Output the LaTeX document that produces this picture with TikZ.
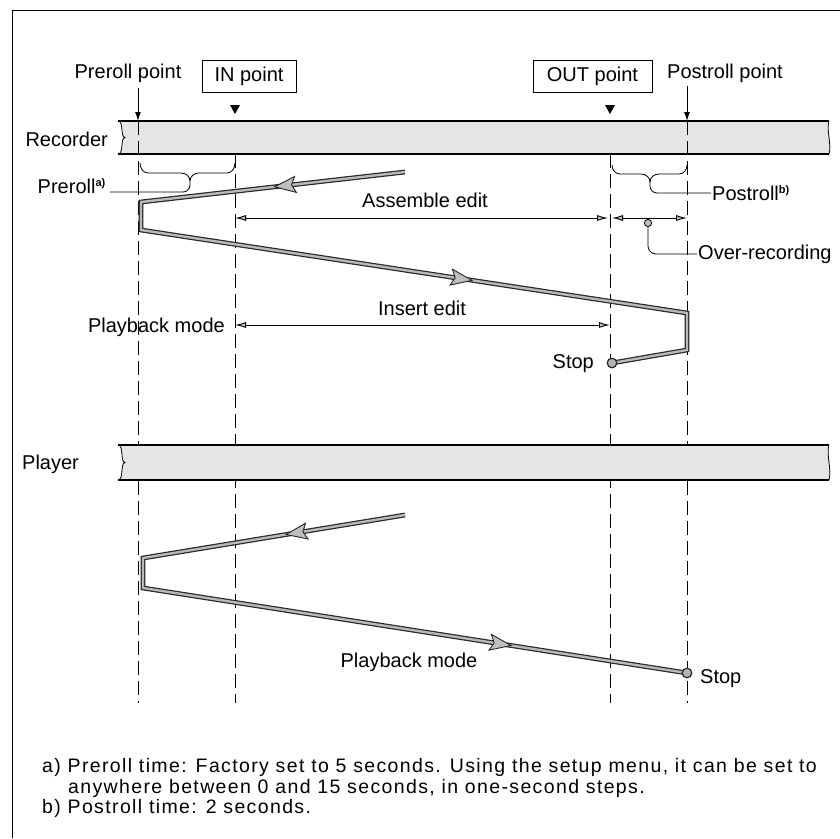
\documentclass[tikz,border=0pt]{standalone}
\usepackage{fontspec}
\setmainfont{Liberation Sans}
\newfontfamily\footfont[LetterSpace=7]{Liberation Sans}
\usetikzlibrary{arrows.meta,decorations.markings}
\begin{document}
\begin{tikzpicture}[x=1pt,y=-1pt,
  lbl/.style={inner sep=0pt,font=\fontsize{20}{24}\selectfont},
  foot/.style={inner sep=0pt,anchor=base west,font=\footfont\fontsize{19.5}{21}\selectfont},
  tape/.style={fill=gray!20,draw=none},
  tapeedge/.style={line width=2pt},
  guide/.style={line width=0.9pt,dash pattern=on 14pt off 6pt},
  pathout/.style={line width=4.8pt,draw=black!85,line join=miter},
  pathin/.style={line width=2.4pt,draw=gray!55,line join=miter},
  midarrow/.style={postaction={decorate},decoration={markings,mark=at position #1 with {\filldraw[fill=gray!50,draw=black!85,line width=0.9pt,line join=miter] (9,0) -- (-12,8) -- (-8,0) -- (-12,-8) -- cycle;}}},
  dimline/.style={line width=0.9pt,{Latex[length=11pt,width=6pt,fill=gray!50]}-{Latex[length=11pt,width=6pt,fill=gray!50]}},
  ptarrow/.style={line width=1pt,-{Latex[length=9pt,width=6pt]}},
  box/.style={draw,line width=1pt,inner sep=0pt,minimum height=32pt,font=\fontsize{20}{24}\selectfont},
  thinln/.style={line width=0.8pt}
]
\useasboundingbox (0,0) rectangle (840,838);
% frame
\draw[line width=1pt] (12,838) -- (12,10) -- (840,10);

% recorder tape
\fill[tape] (118,121) .. controls (124,121) and (120,137) .. (125,137.5) .. controls (120,138) and (124,154) .. (118,154) -- (829,154) .. controls (832,145) and (826,130) .. (829,121) -- cycle;
\draw[tapeedge] (118,121) -- (829,121);
\draw[tapeedge] (118,154) -- (829,154);
\draw[thinln] (118,121) .. controls (124,121) and (120,137) .. (125,137.5) .. controls (120,138) and (124,154) .. (118,154);
\draw[thinln] (829,121) .. controls (826,130) and (832,145) .. (829,154);

% guide lines
\coordinate (g1t) at (138,121); \coordinate (g1b) at (138,703);
\coordinate (g2t) at (235,154); \coordinate (g2b) at (235,703);
\coordinate (g3t) at (610,154); \coordinate (g3b) at (610,703);
\coordinate (g4t) at (687,121); \coordinate (g4b) at (687,703);
\draw[guide] (g1t) -- (g1b);
\draw[guide] (g2t) -- (g2b);
\draw[guide] (g3t) -- (g3b);
\draw[guide] (g4t) -- (g4b);

% player tape
\fill[tape] (118,445) .. controls (124,445) and (120,462) .. (125,462.5) .. controls (120,463) and (124,480) .. (118,480) -- (829,480) .. controls (832,470) and (826,455) .. (829,445) -- cycle;
\draw[tapeedge] (118,445) -- (829,445);
\draw[tapeedge] (118,480) -- (829,480);
\draw[thinln] (118,445) .. controls (124,445) and (120,462) .. (125,462.5) .. controls (120,463) and (124,480) .. (118,480);
\draw[thinln] (829,445) .. controls (826,455) and (832,470) .. (829,480);

% top labels
\node[lbl] (prep) at (128,73) {Preroll point};
\node[lbl] (postp) at (725,73) {Postroll point};
\node[box,minimum width=94pt] (inp) at (249,76) {IN point};
\node[box,minimum width=119pt] (outp) at (592.5,76) {OUT point};
\coordinate (prea) at (138,88);
\coordinate (posta) at (687,86);
\draw[ptarrow] (prea) -- (g1t);
\draw[ptarrow] (posta) -- (g4t);
\fill (230,105) -- (240,105) -- (235,114) -- cycle;
\fill (605,105) -- (615,105) -- (610,114) -- cycle;

\node[lbl,anchor=east] (rec) at (108,139) {Recorder};
\node[lbl,anchor=west] (ply) at (22,464) {Player};

% braces
\draw[thinln] (140,163) to[out=-90,in=180] (148,173) -- (181,173) to[out=0,in=90] (190,181);
\draw[thinln] (235,163) to[out=-90,in=0] (227,173) -- (199,173) to[out=180,in=90] (190,181) -- (190,185) to[out=-90,in=0] (183,192) -- (110,192);
\node[lbl,anchor=east] (prel) at (106,186) {Preroll\textsuperscript{\bfseries\fontsize{11}{11}\selectfont a)}};
\draw[thinln] (612,165) to[out=-90,in=180] (620,174) -- (641,174) to[out=0,in=90] (650,182);
\draw[thinln] (687,165) to[out=-90,in=0] (679,174) -- (659,174) to[out=180,in=90] (650,182) -- (650,186) to[out=-90,in=180] (657,193) -- (711,193);
\node[lbl,anchor=west] (postl) at (712,193) {Postroll\textsuperscript{\bfseries\fontsize{11}{11}\selectfont b)}};

% dimension arrows
\coordinate (asL) at (235,218); \coordinate (asR) at (608,218);
\coordinate (ovL) at (612,218); \coordinate (ovR) at (687,218);
\coordinate (inL) at (235,325); \coordinate (inR) at (610,325);
\draw[dimline] (asL) -- (asR);
\draw[dimline] (ovL) -- (ovR);
\draw[dimline] (inL) -- (inR);
\node[lbl] (asl) at (425,200) {Assemble edit};
\node[lbl] (insl) at (422,308) {Insert edit};
\node[lbl,anchor=east] (pbl) at (225,327) {Playback mode};
% over-recording leader
\coordinate (ovd) at (648,223);
\draw[thinln,rounded corners=8pt] (ovd) -- (648,254) -- (697,254);
\fill[gray!50,draw=black,line width=0.8pt] (ovd) circle (3.6);
\node[lbl,anchor=west] (ovl) at (698,254) {Over-recording};

% recorder path
\coordinate (r0) at (405,172);
\coordinate (r1) at (141,202);
\coordinate (r2) at (141,230);
\coordinate (r3) at (687,313);
\coordinate (r4) at (687,350);
\coordinate (r5) at (612,363);
\draw[pathout] (r0) -- (r1) -- (r2) -- (r3) -- (r4) -- (r5);
\draw[pathin] (r0) -- (r1) -- (r2) -- (r3) -- (r4) -- (r5);
\path[midarrow=0.46] (r0) -- (r1);
\path[midarrow=0.59] (r2) -- (r3);
\fill[gray!60,draw=black!85,line width=1.2pt] (r5) circle (4.8);
\node[lbl,anchor=east] (stop1) at (594,364) {Stop};

% player path
\coordinate (p0) at (405,515);
\coordinate (p1) at (143,558);
\coordinate (p2) at (143,588);
\coordinate (p3) at (687,673);
\draw[pathout] (p0) -- (p1) -- (p2) -- (p3);
\draw[pathin] (p0) -- (p1) -- (p2) -- (p3);
\path[midarrow=0.42] (p0) -- (p1);
\path[midarrow=0.66] (p2) -- (p3);
\fill[gray!60,draw=black!85,line width=1.2pt] (p3) circle (4.8);
\node[lbl] (pbl2) at (409,662) {Playback mode};
\node[lbl,anchor=west] (stop2) at (700,679) {Stop};

% footnotes
\node[foot] (fa) at (42,772) {a) Preroll time: Factory set to 5 seconds. Using the setup menu, it can be set to};
\node[foot] (fa2) at (68,793) {anywhere between 0 and 15 seconds, in one-second steps.};
\node[foot] (fb) at (42,813) {b) Postroll time: 2 seconds.};
\end{tikzpicture}
\end{document}
